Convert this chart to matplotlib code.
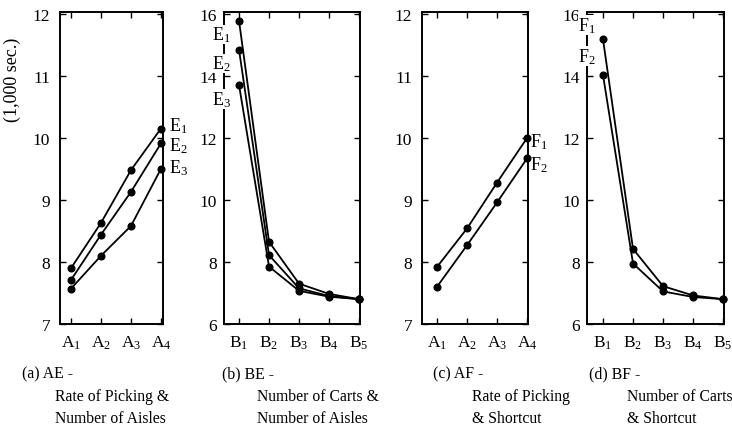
import matplotlib.pyplot as plt

plt.rcParams['font.family'] = 'Liberation Serif'
plt.rcParams['mathtext.fontset'] = 'custom'
plt.rcParams['mathtext.rm'] = 'Liberation Serif'
plt.rcParams['mathtext.it'] = 'Liberation Serif:italic'

# data (1,000 sec.)
a_levels = [1, 2, 3, 4]
b_levels = [1, 2, 3, 4, 5]
a_ticks = [r'$\mathrm{A}_1$', r'$\mathrm{A}_2$', r'$\mathrm{A}_3$', r'$\mathrm{A}_4$']
b_ticks = [r'$\mathrm{B}_1$', r'$\mathrm{B}_2$', r'$\mathrm{B}_3$', r'$\mathrm{B}_4$', r'$\mathrm{B}_5$']

ae_E1 = [7.90, 8.63, 9.48, 10.15]
ae_E2 = [7.71, 8.44, 9.13, 9.91]
ae_E3 = [7.57, 8.10, 8.58, 9.50]

be_E1 = [15.78, 8.65, 7.30, 6.97, 6.80]
be_E2 = [14.85, 8.22, 7.15, 6.90, 6.80]
be_E3 = [13.71, 7.85, 7.07, 6.88, 6.80]

af_F1 = [7.92, 8.54, 9.28, 10.0]
af_F2 = [7.60, 8.27, 8.96, 9.67]

bf_F1 = [15.18, 8.42, 7.22, 6.92, 6.80]
bf_F2 = [14.03, 7.95, 7.05, 6.87, 6.80]

fig = plt.figure(figsize=(7.32, 4.27), dpi=100)

bottom = 0.2389
height = 0.7307
ax_a = fig.add_axes([0.082, bottom, 0.1407, height])
ax_b = fig.add_axes([0.306, bottom, 0.1858, height])
ax_c = fig.add_axes([0.5765, bottom, 0.1448, height])
ax_d = fig.add_axes([0.8019, bottom, 0.1872, height])


def style(ax, xs, labels, ylim, yticks, xlim, ypad):
    ax.set_xlim(*xlim)
    ax.set_ylim(*ylim)
    ax.set_xticks(xs)
    ax.set_xticklabels(labels)
    ax.set_yticks(yticks)
    ax.tick_params(direction='in', top=True, right=True, length=4, width=1,
                   labelsize=12.5)
    ax.tick_params(axis='x', pad=7)
    ax.tick_params(axis='y', pad=ypad)
    for s in ax.spines.values():
        s.set_linewidth(1.4)


def draw(ax, xs, ys):
    ax.plot(xs, ys, color='black', lw=1.3, marker='o', ms=4.8, clip_on=False, zorder=3)


# (a)
for ys in (ae_E1, ae_E2, ae_E3):
    draw(ax_a, a_levels, ys)
style(ax_a, a_levels, a_ticks, (7, 12.03), [7, 8, 9, 10, 11, 12], (0.633, 4.07), 7)
for i, ys in enumerate((ae_E1, ae_E2, ae_E3)):
    ax_a.text(4.28, ys[-1] + [0.05, -0.03, 0.03][i], r'$\mathrm{E}_%d$' % (i + 1),
              fontsize=13, va='center', ha='left', clip_on=False)

# (b)
for ys in (be_E1, be_E2, be_E3):
    draw(ax_b, b_levels, ys)
style(ax_b, b_levels, b_ticks, (6, 16.06), [6, 8, 10, 12, 14, 16], (0.5, 5.03), 5)
for i, ys in enumerate((be_E1, be_E2, be_E3)):
    ax_b.text(0.42, ys[0] - 0.45, r'$\mathrm{E}_%d$' % (i + 1), fontsize=13,
              va='center', ha='center', clip_on=False, zorder=4,
              bbox=dict(facecolor='white', edgecolor='none', pad=0))

# (c)
for ys in (af_F1, af_F2):
    draw(ax_c, a_levels, ys)
style(ax_c, a_levels, a_ticks, (7, 12.03), [7, 8, 9, 10, 11, 12], (0.5, 4.03), 7)
for i, ys in enumerate((af_F1, af_F2)):
    ax_c.text(4.1, ys[-1] + [-0.05, -0.09][i], r'$\mathrm{F}_%d$' % (i + 1),
              fontsize=13, va='center', ha='left', clip_on=False)

# (d)
for ys in (bf_F1, bf_F2):
    draw(ax_d, b_levels, ys)
style(ax_d, b_levels, b_ticks, (6, 16.06), [6, 8, 10, 12, 14, 16], (0.467, 5.03), 5)
for i, ys in enumerate((bf_F1, bf_F2)):
    ax_d.text(0.45, ys[0] + [0.45, 0.6][i], r'$\mathrm{F}_%d$' % (i + 1), fontsize=13,
              va='center', ha='center', clip_on=False, zorder=4,
              bbox=dict(facecolor='white', edgecolor='none', pad=0))

# y-axis unit
fig.text(12 / 732, 1 - 80 / 427, '(1,000 sec.)', rotation=90, fontsize=13,
         ha='center', va='center')

# captions
captions = [
    (22, 55, '(a) AE -', 'Rate of Picking &', 'Number of Aisles'),
    (222, 257, '(b) BE -', 'Number of Carts &', 'Number of Aisles'),
    (433, 472, '(c) AF -', 'Rate of Picking', '& Shortcut'),
    (589, 627, '(d) BF -', 'Number of Carts', '& Shortcut'),
]
for x0, x1, l1, l2, l3 in captions:
    fig.text(x0 / 732, 1 - 374 / 427, l1, fontsize=11.3, va='center')
    fig.text(x1 / 732, 1 - 397 / 427, l2, fontsize=11.3, va='center')
    fig.text(x1 / 732, 1 - 419 / 427, l3, fontsize=11.3, va='center')

fig.savefig('out.png', dpi=100)
